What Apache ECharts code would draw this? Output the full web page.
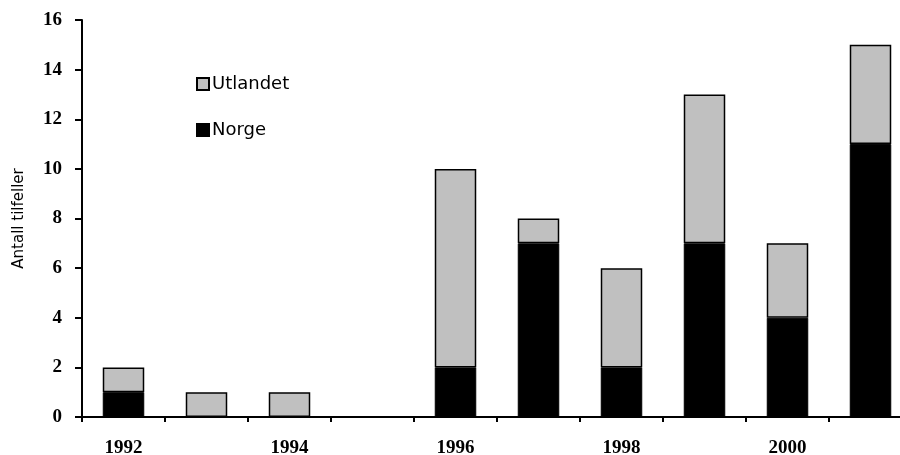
<!DOCTYPE html>
<html><head><meta charset="utf-8">
<script src="https://cdn.jsdelivr.net/npm/echarts@6/dist/echarts.min.js"></script>
<style>html,body{margin:0;padding:0;background:#fff}#c{width:900px;height:455px}</style>
</head><body><div id="c"></div>
<script>
var years = ['1992','1993','1994','1995','1996','1997','1998','1999','2000','2001'];
var norge = [1,0,0,0,2,7,2,7,4,11];
var utlandet = [1,1,1,0,8,1,4,6,3,4];
var yTicks = {min:0, max:16, interval:2};

var chart = echarts.init(document.getElementById('c'));
chart.setOption({
  animation:false,
  backgroundColor:'#fff',
  grid:{left:82, width:830, top:20, bottom:38, outerBoundsMode:'none', containLabel:false},
  legend:{
    orient:'vertical', left:191, top:70, itemGap:28,
    itemWidth:12, itemHeight:12, icon:'rect',
    textStyle:{fontFamily:'DejaVu Sans', fontSize:18, color:'#000', padding:[0,0,0,-2]},
    data:['Utlandet','Norge']
  },
  xAxis:{
    type:'category', data:years,
    axisLine:{lineStyle:{color:'#000', width:2}},
    axisTick:{show:true, alignWithLabel:false, interval:0, length:5, lineStyle:{color:'#000', width:2}},
    axisLabel:{interval:1, margin:22, fontFamily:'Liberation Serif', fontWeight:'bold', fontSize:19, color:'#000'}
  },
  yAxis:{
    type:'value', min:yTicks.min, max:yTicks.max, interval:yTicks.interval,
    name:'Antall tilfeller', nameLocation:'middle', nameGap:55, nameRotate:90,
    nameTextStyle:{fontFamily:'DejaVu Sans', fontSize:15, color:'#000'},
    splitLine:{show:false},
    axisLine:{show:true, lineStyle:{color:'#000', width:2}},
    axisTick:{show:true, length:7, lineStyle:{color:'#000', width:2}},
    axisLabel:{margin:20, fontFamily:'Liberation Serif', fontWeight:'bold', fontSize:19, color:'#000'}
  },
  series:[
    {name:'Norge', type:'bar', stack:'a', data:norge, barWidth:'50%',
     itemStyle:{color:'#000', borderColor:'#000', borderWidth:1}},
    {name:'Utlandet', type:'bar', stack:'a', data:utlandet, barWidth:'50%',
     itemStyle:{color:'#c0c0c0', borderColor:'#000', borderWidth:1.5}}
  ]
});
</script></body></html>
